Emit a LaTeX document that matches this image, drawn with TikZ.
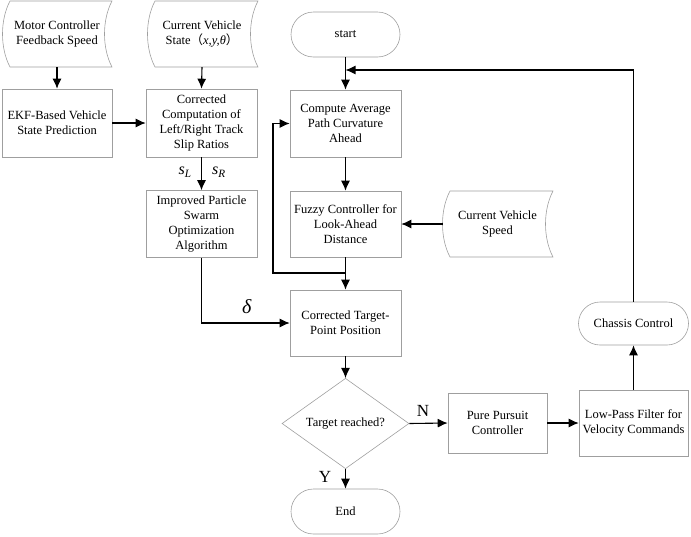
\documentclass[tikz,border=0pt]{standalone}
\usepackage{fontspec}
\setmainfont{Liberation Serif}
\newfontfamily\cjk{Noto Sans CJK SC}
\usetikzlibrary{arrows.meta,shapes.geometric,shapes.misc}
\begin{document}
\begin{tikzpicture}[x=1pt,y=-1pt,
  every node/.style={font=\fontsize{12.5}{15.3}\selectfont, align=center},
  box/.style={draw=gray!75, line width=0.6pt, rectangle, inner sep=1pt},
  term/.style={draw=gray!75, line width=0.6pt, rounded rectangle, inner sep=1pt},
  decbox/.style={draw=gray!75, line width=0.6pt, diamond, inner sep=0pt},
  sd/.style={draw=gray!75, line width=0.6pt},
  arr/.style={draw=black, line width=1.1pt, -{Latex[length=10pt,width=9pt]}},
  ln/.style={draw=black, line width=1.1pt},
  lbl/.style={inner sep=0pt}
]
\useasboundingbox (0,0) rectangle (691,536);
% stored data shapes
\draw[sd] (10,1) .. controls (0,20) and (0,48) .. (10,67) -- (112,67) .. controls (102,48) and (102,20) .. (112,1) -- cycle;
\draw[sd] (155,1) .. controls (145,20) and (145,48) .. (155,67) -- (258,67) .. controls (248,48) and (248,20) .. (258,1) -- cycle;
\draw[sd] (450,191) .. controls (440,210) and (440,238) .. (450,257) -- (553,257) .. controls (543,238) and (543,210) .. (553,191) -- cycle;
\node[minimum width=108pt, minimum height=66pt, inner sep=0pt] (motor) at (57,34) {Motor Controller\\Feedback Speed};
\node[minimum width=109pt, minimum height=66pt, inner sep=0pt] (state) at (202,34) {Current Vehicle\\State{\cjk （}\textit{x,y,θ}{\cjk ）}};
\node[minimum width=109pt, minimum height=66pt, inner sep=0pt] (speed) at (497.5,224) {Current Vehicle\\Speed};
% process boxes
\node[box, minimum width=110pt, minimum height=68pt] (ekf) at (57,123) {EKF-Based Vehicle\\State Prediction};
\node[box, minimum width=111pt, minimum height=68pt] (corr) at (201.5,123) {Corrected\\Computation of\\Left/Right Track\\Slip Ratios};
\node[box, minimum width=111pt, minimum height=67pt] (pso) at (201.5,224) {Improved Particle\\Swarm\\Optimization\\Algorithm};
\node[term, minimum width=111pt, minimum height=45pt] (start) at (345.5,34.5) {start};
\node[box, minimum width=111pt, minimum height=67pt] (comp) at (345.5,123.5) {Compute Average\\Path Curvature\\Ahead};
\node[box, minimum width=111pt, minimum height=66pt] (fuzzy) at (345.5,224) {Fuzzy Controller for\\Look-Ahead\\Distance};
\node[box, minimum width=111pt, minimum height=66pt] (target) at (345.5,323) {Corrected Target-\\Point Position};
\node[decbox, minimum width=127pt, minimum height=75pt] (dec) at (345.5,423.5) {Target reached?};
\node[term, minimum width=111pt, minimum height=45pt] (end) at (345.5,511.5) {End};
\node[box, minimum width=99pt, minimum height=60pt] (pp) at (497.5,423) {Pure Pursuit\\Controller};
\node[box, minimum width=109pt, minimum height=66pt] (lpf) at (633.5,423) {Low-Pass Filter for\\Velocity Commands};
\node[term, minimum width=112pt, minimum height=43pt] (chassis) at (633.5,323.5) {Chassis Control};
% labels
\node[lbl, font=\fontsize{16}{16}\selectfont] (sl) at (185,172) {\textit{s}\textsubscript{\textit{L}}};
\node[lbl, font=\fontsize{16}{16}\selectfont] (sr) at (219,172) {\textit{s}\textsubscript{\textit{R}}};
\node[lbl, font=\fontsize{20}{20}\selectfont] (dl) at (247,307) {\textit{δ}};
\node[lbl, font=\fontsize{17}{17}\selectfont] (nl) at (423,411) {N};
\node[lbl, font=\fontsize{17}{17}\selectfont] (yl) at (325,477) {Y};
% coordinates
\coordinate (j1) at (345.5,273);
\coordinate (lc) at (273,273);
\coordinate (fbend) at (345.5,70);
% connectors
\draw[arr] (motor.south) -- (ekf.north);
\draw[arr] (state.south) -- (corr.north);
\draw[arr] (ekf.east) -- (corr.west);
\draw[arr] (corr.south) -- (pso.north);
\draw[arr] (pso.south) |- (target.west);
\draw[arr] (start.south) -- (comp.north);
\draw[arr] (comp.south) -- (fuzzy.north);
\draw[arr] (speed.west) -- (fuzzy.east);
\draw[arr] (fuzzy.south) -- (target.north);
\draw[arr] (j1) -- (lc) |- (comp.west);
\draw[arr] (target.south) -- (dec.north);
\draw[arr] (dec.east) -- (pp.west);
\draw[arr] (dec.south) -- (end.north);
\draw[arr] (pp.east) -- (lpf.west);
\draw[arr] (lpf.north) -- (chassis.south);
\draw[arr] (chassis.north) |- (fbend);
\end{tikzpicture}
\end{document}
